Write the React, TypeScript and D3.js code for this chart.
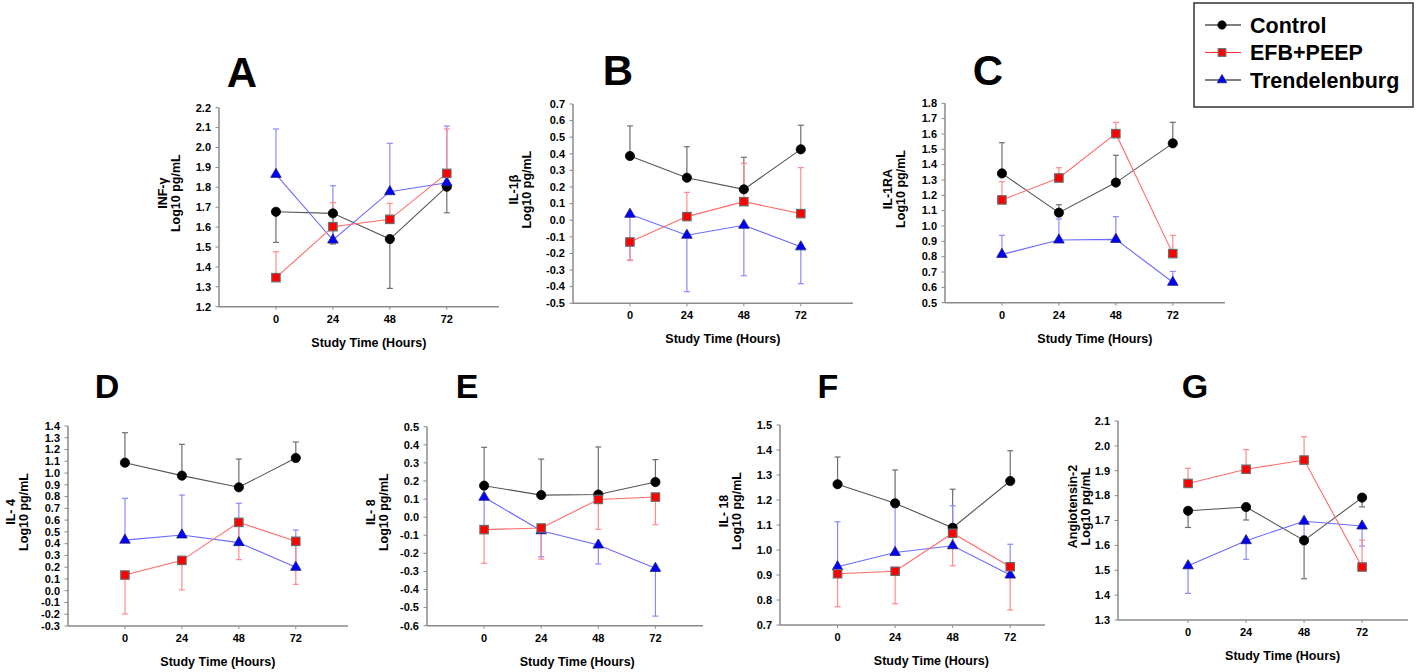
import React from "react";
import * as d3 from "d3";

// ---------- data ----------
const HOURS = [0, 24, 48, 72];
const HOUR_LABELS = ["0", "24", "48", "72"];
const SERIES_NAMES = ["Control", "EFB+PEEP", "Trendelenburg"];

// Panel A: INF-γ
const A_CONTROL = [1.677, 1.669, 1.54, 1.803];
const A_CONTROL_ERR = [-0.154, -0.154, -0.248, -0.131];
const A_EFB = [1.346, 1.602, 1.639, 1.87];
const A_EFB_ERR = [0.13, 0.121, 0.08, 0.223];
const A_TREND = [1.865, 1.535, 1.778, 1.823];
const A_TREND_ERR = [0.228, 0.273, 0.243, 0.285];

// Panel B: IL-1β
const B_CONTROL = [0.387, 0.256, 0.186, 0.427];
const B_CONTROL_ERR = [0.181, 0.187, 0.193, 0.145];
const B_EFB = [-0.131, 0.022, 0.112, 0.04];
const B_EFB_ERR = [-0.112, 0.146, 0.231, 0.277];
const B_TREND = [0.036, -0.09, -0.03, -0.16];
const B_TREND_ERR = [-0.276, -0.34, -0.304, -0.222];

// Panel C: IL-1RA
const C_CONTROL = [1.343, 1.087, 1.283, 1.539];
const C_CONTROL_ERR = [0.2, 0.052, 0.178, 0.137];
const C_EFB = [1.17, 1.313, 1.602, 0.82];
const C_EFB_ERR = [0.119, 0.067, 0.074, 0.119];
const C_TREND = [0.815, 0.909, 0.913, 0.633];
const C_TREND_ERR = [0.124, 0.137, 0.148, 0.071];

// Panel D: IL-4
const D_CONTROL = [1.088, 0.978, 0.879, 1.128];
const D_CONTROL_ERR = [0.255, 0.266, 0.24, 0.136];
const D_EFB = [0.133, 0.258, 0.581, 0.42];
const D_EFB_ERR = [-0.331, -0.251, -0.317, -0.366];
const D_TREND = [0.43, 0.474, 0.409, 0.199];
const D_TREND_ERR = [0.355, 0.339, 0.334, 0.317];

// Panel E: IL-8
const E_CONTROL = [0.174, 0.122, 0.125, 0.194];
const E_CONTROL_ERR = [0.212, 0.199, 0.263, 0.124];
const E_EFB = [-0.069, -0.06, 0.098, 0.111];
const E_EFB_ERR = [-0.186, -0.172, -0.165, -0.153];
const E_TREND = [0.11, -0.075, -0.154, -0.283];
const E_TREND_ERR = [-0.19, -0.144, -0.105, -0.264];

// Panel F: IL-18
const F_CONTROL = [1.263, 1.187, 1.089, 1.276];
const F_CONTROL_ERR = [0.109, 0.133, 0.154, 0.121];
const F_EFB = [0.905, 0.915, 1.067, 0.933];
const F_EFB_ERR = [-0.132, -0.13, -0.13, -0.173];
const F_TREND = [0.933, 0.99, 1.017, 0.9];
const F_TREND_ERR = [0.18, 0.18, 0.16, 0.123];

// Panel G: Angiotensin-2
const G_CONTROL = [1.739, 1.754, 1.62, 1.792];
const G_CONTROL_ERR = [-0.067, -0.052, -0.154, -0.037];
const G_EFB = [1.849, 1.906, 1.943, 1.513];
const G_EFB_ERR = [0.061, 0.079, 0.094, 0.108];
const G_TREND = [1.518, 1.619, 1.697, 1.678];
const G_TREND_ERR = [-0.111, -0.075, -0.06, -0.081];

// ---------- styles ----------
const FONT = "'Liberation Sans', Arial, Helvetica, sans-serif";
const AXIS_COLOR = "#8a8a8a";
const STYLES = [
  { line: "#555555", err: "#6e6e6e", fill: "#000000", stroke: "#000000", shape: "circle" },
  { line: "#ff6a6a", err: "#ff8a8a", fill: "#ff0000", stroke: "#6a6a6a", shape: "square" },
  { line: "#6a6aff", err: "#8a8aff", fill: "#0000ff", stroke: "#222266", shape: "triangle" },
];

type PanelCfg = {
  letter: string;
  letterX: number;
  letterY: number;
  letterSize: number;
  yLabel: string[];
  yLabelOffset: number;
  yDomain: [number, number];
  xDomain: [number, number];
  left: number;
  right: number;
  top: number;
  bottom: number;
  series: { mean: number[]; err: number[] }[];
};

const PANELS: PanelCfg[] = [
  {
    letter: "A", letterX: 242, letterY: 87, letterSize: 42,
    yLabel: ["INF-γ", "Log10 pg/mL"], yLabelOffset: 39,
    yDomain: [1.2, 2.2], xDomain: [-24, 94],
    left: 219, right: 499, top: 107.7, bottom: 306.7,
    series: [
      { mean: A_CONTROL, err: A_CONTROL_ERR },
      { mean: A_EFB, err: A_EFB_ERR },
      { mean: A_TREND, err: A_TREND_ERR },
    ],
  },
  {
    letter: "B", letterX: 618, letterY: 85, letterSize: 42,
    yLabel: ["IL-1β", "Log10 pg/mL"], yLabelOffset: 42,
    yDomain: [-0.5, 0.7], xDomain: [-24, 94],
    left: 573, right: 853, top: 104, bottom: 303.3,
    series: [
      { mean: B_CONTROL, err: B_CONTROL_ERR },
      { mean: B_EFB, err: B_EFB_ERR },
      { mean: B_TREND, err: B_TREND_ERR },
    ],
  },
  {
    letter: "C", letterX: 988, letterY: 85, letterSize: 42,
    yLabel: ["IL-1RA", "Log10 pg/mL"], yLabelOffset: 40,
    yDomain: [0.5, 1.8], xDomain: [-24, 94],
    left: 945, right: 1225, top: 103.3, bottom: 302.7,
    series: [
      { mean: C_CONTROL, err: C_CONTROL_ERR },
      { mean: C_EFB, err: C_EFB_ERR },
      { mean: C_TREND, err: C_TREND_ERR },
    ],
  },
  {
    letter: "D", letterX: 107, letterY: 398, letterSize: 34,
    yLabel: ["IL- 4", "Log10 pg/mL"], yLabelOffset: 40,
    yDomain: [-0.3, 1.4], xDomain: [-24, 94],
    left: 68, right: 348, top: 426, bottom: 626,
    series: [
      { mean: D_CONTROL, err: D_CONTROL_ERR },
      { mean: D_EFB, err: D_EFB_ERR },
      { mean: D_TREND, err: D_TREND_ERR },
    ],
  },
  {
    letter: "E", letterX: 467, letterY: 398, letterSize: 34,
    yLabel: ["IL- 8", "Log10 pg/mL"], yLabelOffset: 39,
    yDomain: [-0.6, 0.5], xDomain: [-24, 92],
    left: 427, right: 703, top: 426.7, bottom: 625.7,
    series: [
      { mean: E_CONTROL, err: E_CONTROL_ERR },
      { mean: E_EFB, err: E_EFB_ERR },
      { mean: E_TREND, err: E_TREND_ERR },
    ],
  },
  {
    letter: "F", letterX: 828, letterY: 398, letterSize: 34,
    yLabel: ["IL- 18", "Log10 pg/mL"], yLabelOffset: 39,
    yDomain: [0.7, 1.5], xDomain: [-24, 86.5],
    left: 780, right: 1045, top: 425, bottom: 625,
    series: [
      { mean: F_CONTROL, err: F_CONTROL_ERR },
      { mean: F_EFB, err: F_EFB_ERR },
      { mean: F_TREND, err: F_TREND_ERR },
    ],
  },
  {
    letter: "G", letterX: 1195, letterY: 398, letterSize: 34,
    yLabel: ["Angiotensin-2", "Log10 pg/mL"], yLabelOffset: 28,
    yDomain: [1.3, 2.1], xDomain: [-29, 91],
    left: 1118, right: 1408, top: 421, bottom: 620,
    series: [
      { mean: G_CONTROL, err: G_CONTROL_ERR },
      { mean: G_EFB, err: G_EFB_ERR },
      { mean: G_TREND, err: G_TREND_ERR },
    ],
  },
];

const DRAW_ORDER = [0, 2, 1];

function Marker({ shape, x, y, fill, stroke, scale = 1 }: any) {
  if (shape === "circle") {
    return <circle cx={x} cy={y} r={4.6 * scale} fill={fill} stroke={stroke} strokeWidth={0.8} />;
  }
  if (shape === "square") {
    const s = 8.4 * scale;
    return (
      <rect x={x - s / 2} y={y - s / 2} width={s} height={s} fill={fill} stroke={stroke} strokeWidth={1.2} />
    );
  }
  const path = d3.symbol().type(d3.symbolTriangle).size(48 * scale * scale)();
  return <path d={path || ""} transform={`translate(${x},${y})`} fill={fill} stroke={stroke} strokeWidth={0.8} />;
}

function Panel({ cfg }: { cfg: PanelCfg }) {
  const x = d3.scaleLinear().domain(cfg.xDomain).range([cfg.left, cfg.right]);
  const y = d3.scaleLinear().domain(cfg.yDomain).range([cfg.bottom, cfg.top]);
  const lo = Math.round(cfg.yDomain[0] * 10);
  const hi = Math.round(cfg.yDomain[1] * 10);
  const yTicks = d3.range(lo, hi + 1).map((v) => v / 10);
  const line = d3
    .line<number>()
    .x((_, i) => x(HOURS[i]))
    .y((d) => y(d));
  const midY = (cfg.top + cfg.bottom) / 2 - 14;
  const lineX2 = cfg.left - cfg.yLabelOffset;
  const lineX1 = lineX2 - 13.5;
  const xMid = (x(HOURS[0]) + x(HOURS[HOURS.length - 1])) / 2 + 7.5;

  return (
    <g fontFamily={FONT} fontWeight="bold">
      <text x={cfg.letterX} y={cfg.letterY} fontSize={cfg.letterSize} textAnchor="middle" fill="#000">
        {cfg.letter}
      </text>
      {/* y label */}
      <text transform={`translate(${lineX1},${midY}) rotate(-90)`} fontSize={12.5} textAnchor="middle" fill="#000">
        {cfg.yLabel[0]}
      </text>
      <text transform={`translate(${lineX2},${midY}) rotate(-90)`} fontSize={12.5} textAnchor="middle" fill="#000">
        {cfg.yLabel[1]}
      </text>
      {/* axes */}
      <line x1={cfg.left} x2={cfg.left} y1={cfg.top} y2={cfg.bottom} stroke={AXIS_COLOR} strokeWidth={1.5} />
      <line x1={cfg.left} x2={cfg.right} y1={cfg.bottom} y2={cfg.bottom} stroke={AXIS_COLOR} strokeWidth={1.5} />
      {yTicks.map((t) => (
        <g key={t}>
          <line x1={cfg.left - 3.5} x2={cfg.left} y1={y(t)} y2={y(t)} stroke={AXIS_COLOR} strokeWidth={1} />
          <text x={cfg.left - 8} y={y(t) + 3.8} fontSize={11} textAnchor="end" fill="#000">
            {t.toFixed(1)}
          </text>
        </g>
      ))}
      {HOURS.map((h, i) => (
        <g key={h}>
          <line x1={x(h)} x2={x(h)} y1={cfg.bottom} y2={cfg.bottom + 3} stroke={AXIS_COLOR} strokeWidth={1} />
          <text x={x(h)} y={cfg.bottom + 16} fontSize={11} textAnchor="middle" fill="#000">
            {HOUR_LABELS[i]}
          </text>
        </g>
      ))}
      <text x={xMid} y={cfg.bottom + 40} fontSize={12.5} textAnchor="middle" fill="#000">
        Study Time (Hours)
      </text>
      {/* error bars */}
      {DRAW_ORDER.map((si) => {
        const s = cfg.series[si];
        const st = STYLES[si];
        return (
          <g key={"e" + si}>
            {s.mean.map((m, i) => {
              const cx = x(HOURS[i]);
              const y1 = y(m);
              const y2 = y(m + s.err[i]);
              return (
                <g key={i}>
                  <line x1={cx} x2={cx} y1={y1} y2={y2} stroke={st.err} strokeWidth={1.2} />
                  <line x1={cx - 3} x2={cx + 3} y1={y2} y2={y2} stroke={st.err} strokeWidth={1.2} />
                </g>
              );
            })}
          </g>
        );
      })}
      {/* lines + markers */}
      {DRAW_ORDER.map((si) => {
        const s = cfg.series[si];
        const st = STYLES[si];
        return (
          <g key={"l" + si}>
            <path d={line(s.mean) || ""} fill="none" stroke={st.line} strokeWidth={1.1} />
            {s.mean.map((m, i) => (
              <Marker key={i} shape={st.shape} x={x(HOURS[i])} y={y(m)} fill={st.fill} stroke={st.stroke} />
            ))}
          </g>
        );
      })}
    </g>
  );
}

function Legend() {
  const boxX = 1194;
  const boxY = 3;
  const rowY = d3.scaleLinear().domain([0, 2]).range([25, 80]);
  const legendLine = ["#000000", "#ff2a2a", "#000000"];
  return (
    <g fontFamily={FONT} fontWeight="bold">
      <rect x={boxX} y={boxY} width={219} height={104} fill="#fff" stroke="#333" strokeWidth={1.5} />
      {SERIES_NAMES.map((name, i) => {
        const st = STYLES[i];
        const cy = rowY(i);
        return (
          <g key={name}>
            <line x1={1205} x2={1241} y1={cy} y2={cy} stroke={legendLine[i]} strokeWidth={1.2} />
            <Marker shape={st.shape} x={1222} y={cy} fill={st.fill} stroke={st.stroke} scale={0.9} />
            <text x={1250} y={cy + 7.8} fontSize={21.5} fill="#000">
              {name}
            </text>
          </g>
        );
      })}
    </g>
  );
}

export default function App() {
  return (
    <svg
      width={1418}
      height={672}
      viewBox="0 0 1418 672"
      style={{ position: "absolute", left: 0, top: 0, background: "#fff" }}
    >
      <rect x={0} y={0} width={1418} height={672} fill="#fff" />
      {PANELS.map((p) => (
        <Panel key={p.letter} cfg={p} />
      ))}
      <Legend />
    </svg>
  );
}
